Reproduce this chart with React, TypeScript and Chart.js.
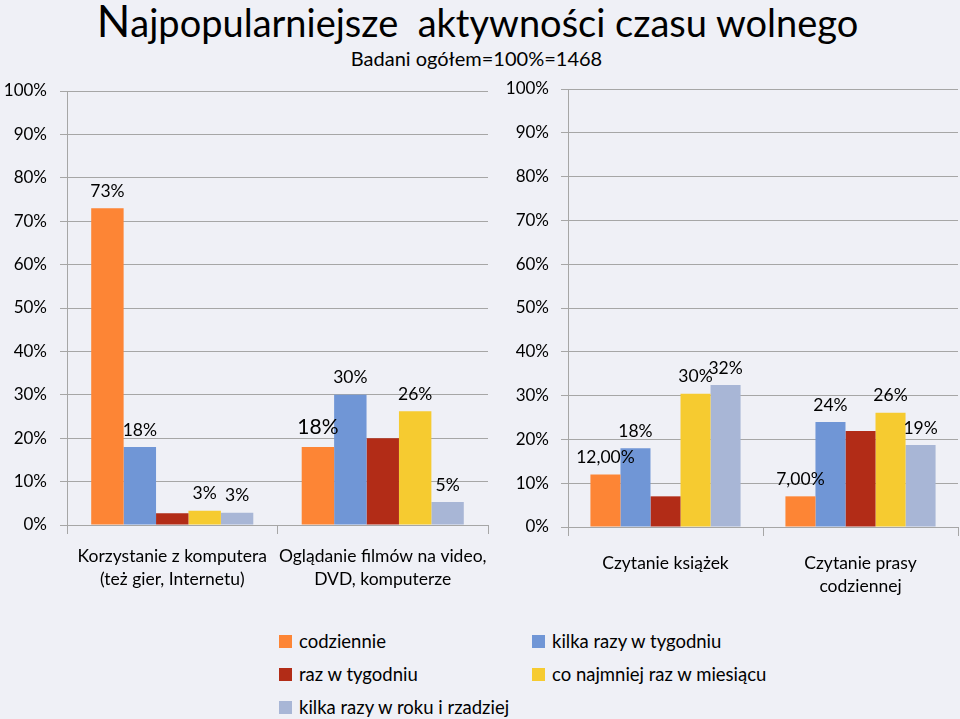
import React, { useEffect, useRef } from "react";
import { Chart, registerables } from "chart.js";

Chart.register(...registerables);

// ---------- data ----------
const leftCategories = [
  ["Korzystanie z komputera", "(też gier, Internetu)"],
  ["Oglądanie filmów na video,", "DVD, komputerze"],
];
const rightCategories = [["Czytanie książek"], ["Czytanie prasy", "codziennej"]];

const seriesNames = [
  "codziennie",
  "kilka razy w tygodniu",
  "raz w tygodniu",
  "co najmniej raz w miesiącu",
  "kilka razy w roku i rzadziej",
];
const seriesColors = ["#fd8535", "#7096d6", "#b22c17", "#f6cb30", "#a8b6d6"];

// values per series: [category 1, category 2]
const codzienneLeft = [73, 18];
const kilkaTygLeft = [18, 30];
const razTygLeft = [2.7, 20];
const razMiesLeft = [3.3, 26.2];
const rzadziejLeft = [2.8, 5.3];

const codzienneRight = [12, 7];
const kilkaTygRight = [18, 24];
const razTygRight = [7, 21.9];
const razMiesRight = [30.4, 26.1];
const rzadziejRight = [32.4, 18.7];

// value labels shown above bars ("" = no label)
const labelsLeft = [
  ["73%", "18%"],
  ["18%", "30%"],
  ["", ""],
  ["3%", "26%"],
  ["3%", "5%"],
];
const labelsRight = [
  ["12,00%", "7,00%"],
  ["18%", "24%"],
  ["", ""],
  ["30%", "26%"],
  ["32%", "19%"],
];

const yTicks = [0, 10, 20, 30, 40, 50, 60, 70, 80, 90, 100];

const FONT = "Lato";
const GRID = "#a6a6a6";

const valueLabelPlugin = {
  id: "valueLabels",
  afterDatasetsDraw(chart: any, _args: any, opts: any) {
    const ctx = chart.ctx;
    const labels: string[][] = opts.labels || [];
    ctx.save();
    ctx.fillStyle = "#000";
    ctx.textAlign = "center";
    ctx.textBaseline = "middle";
    chart.data.datasets.forEach((_ds: any, i: number) => {
      const meta = chart.getDatasetMeta(i);
      meta.data.forEach((el: any, j: number) => {
        const txt = labels[i] && labels[i][j];
        if (!txt) return;
        const big = opts.big && opts.big[0] === i && opts.big[1] === j;
        const size = big ? opts.bigSize : opts.size;
        ctx.font = `${size}px ${FONT}`;
        ctx.fillText(txt, el.x, el.y - (big ? 20 : opts.offset));
      });
    });
    ctx.restore();
  },
};

function makeConfig(
  categories: string[][],
  values: number[][],
  labels: string[][],
  yWidth: number,
  xHeight: number,
  padding: any,
  tickPad: number,
  xPad: number,
  big: number[] | null
): any {
  return {
    type: "bar",
    data: {
      labels: categories,
      datasets: values.map((v, i) => ({
        label: seriesNames[i],
        data: v,
        backgroundColor: seriesColors[i],
        borderWidth: 0,
        categoryPercentage: 0.77,
        barPercentage: 1,
      })),
    },
    options: {
      animation: false,
      responsive: false,
      devicePixelRatio: 1,
      layout: { padding },
      events: [],
      scales: {
        x: {
          grid: { offset: true, drawOnChartArea: false, color: GRID, tickLength: 9 },
          border: { color: GRID },
          ticks: {
            color: "#000",
            font: { family: FONT, size: 17.5, lineHeight: 1.32 },
            padding: xPad,
            maxRotation: 0,
            autoSkip: false,
          },
          afterFit(scale: any) {
            scale.height = xHeight;
            scale.paddingLeft = 0;
            scale.paddingRight = 0;
          },
        },
        y: {
          min: 0,
          max: 100,
          afterBuildTicks(scale: any) {
            scale.ticks = yTicks.map((v) => ({ value: v }));
          },
          grid: { color: GRID, tickLength: 7 },
          border: { color: GRID },
          ticks: {
            color: "#000",
            font: { family: FONT, size: 17 },
            padding: tickPad,
            callback: (v: any) => v + "%",
          },
          afterFit(scale: any) {
            scale.width = yWidth;
            scale.paddingTop = 0;
            scale.paddingBottom = 0;
          },
        },
      },
      plugins: {
        legend: { display: false },
        tooltip: { enabled: false },
        valueLabels: { labels, size: 17.5, bigSize: 21, offset: 17, big },
      },
    },
    plugins: [valueLabelPlugin],
  };
}

function BarCanvas(props: { config: any; left: number; top: number; width: number; height: number }) {
  const ref = useRef<HTMLCanvasElement | null>(null);
  useEffect(() => {
    if (!ref.current) return;
    const chart = new Chart(ref.current, props.config);
    return () => chart.destroy();
  }, []);
  return (
    <canvas
      ref={ref}
      width={props.width}
      height={props.height}
      style={{ position: "absolute", left: props.left, top: props.top, width: props.width, height: props.height }}
    />
  );
}

export default function App() {
  useEffect(() => {
    document.body.style.margin = "0";
    document.body.style.background = "#eff0f6";
  }, []);

  const leftCfg = makeConfig(
    leftCategories,
    [codzienneLeft, kilkaTygLeft, razTygLeft, razMiesLeft, rzadziejLeft],
    labelsLeft,
    67,
    95,
    { left: 0, right: 7, top: 31, bottom: 0 },
    13,
    11,
    [0, 1]
  );
  const rightCfg = makeConfig(
    rightCategories,
    [codzienneRight, kilkaTygRight, razTygRight, razMiesRight, rzadziejRight],
    labelsRight,
    73,
    93,
    { left: 0, right: 2, top: 29, bottom: 0 },
    12,
    16,
    null
  );

  const legendItems = [
    { i: 0, x: 279, y: 641 },
    { i: 1, x: 532, y: 641 },
    { i: 2, x: 279, y: 674 },
    { i: 3, x: 532, y: 674 },
    { i: 4, x: 279, y: 707 },
  ];

  return (
    <div
      style={{
        position: "fixed",
        left: 0,
        top: 0,
        width: 960,
        height: 719,
        background: "#eff0f6",
        fontFamily: FONT,
        overflow: "hidden",
      }}
    >
      <div
        style={{
          position: "absolute",
          left: 0,
          width: 955,
          top: -6,
          textAlign: "center",
          fontSize: 38,
          fontWeight: 400,
          color: "#000",
          whiteSpace: "pre",
        }}
      >
        <span style={{ fontSize: 44 }}>N</span>
        {"ajpopularniejsze  aktywności czasu wolnego"}
      </div>
      <div
        style={{
          position: "absolute",
          left: 0,
          width: 953,
          top: 46,
          textAlign: "center",
          fontSize: 20,
          color: "#000",
        }}
      >
        Badani ogółem=100%=1468
      </div>
      <BarCanvas config={leftCfg} left={0} top={60} width={495} height={560} />
      <BarCanvas config={rightCfg} left={495} top={60} width={465} height={560} />
      {legendItems.map((it) => (
        <div
          key={it.i}
          style={{ position: "absolute", left: it.x, top: it.y - 12, height: 24, display: "flex", alignItems: "center" }}
        >
          <div style={{ width: 13, height: 13, background: seriesColors[it.i], marginRight: 7 }} />
          <span style={{ fontSize: 18.5, color: "#000", whiteSpace: "nowrap" }}>{seriesNames[it.i]}</span>
        </div>
      ))}
    </div>
  );
}
